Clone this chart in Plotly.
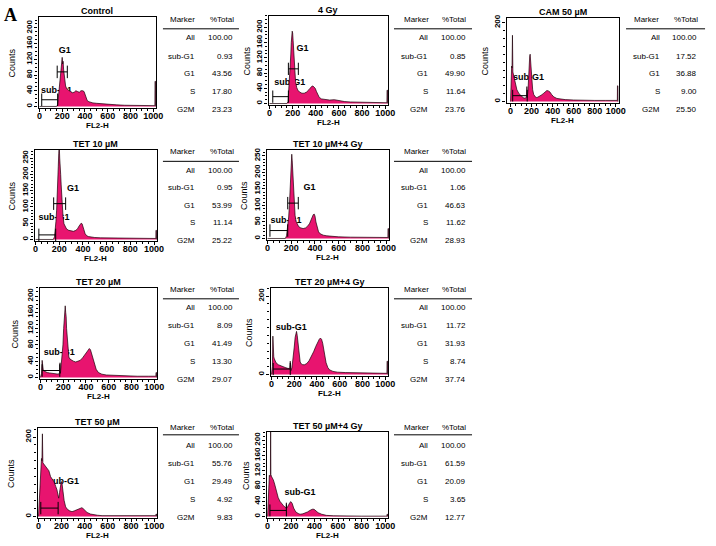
import plotly.graph_objects as go

W, H = 716, 546

# ---------------- data ----------------
PANEL_TITLES = ["Control", "4 Gy", "CAM 50 µM", "TET 10 µM", "TET 10 µM+4 Gy",
                "TET 20 µM", "TET 20 µM+4 Gy", "TET 50 µM", "TET 50 µM+4 Gy"]
MARKER_NAMES = ["All", "sub-G1", "G1", "S", "G2M"]

PCT_CONTROL = [100.00, 0.93, 43.56, 17.80, 23.23]
PCT_4GY = [100.00, 0.85, 49.90, 11.64, 23.76]
PCT_CAM50 = [100.00, 17.52, 36.88, 9.00, 25.50]
PCT_TET10 = [100.00, 0.95, 53.99, 11.14, 25.22]
PCT_TET10_4GY = [100.00, 1.06, 46.63, 11.62, 28.93]
PCT_TET20 = [100.00, 8.09, 41.49, 13.30, 29.07]
PCT_TET20_4GY = [100.00, 11.72, 31.93, 8.74, 37.74]
PCT_TET50 = [100.00, 55.76, 29.49, 4.92, 9.83]
PCT_TET50_4GY = [100.00, 61.59, 20.09, 3.65, 12.77]

# histogram (FL2-H channel, counts)
HIST_CONTROL = [(0,0),(150,0),(160,4),(166,22),(172,45),(178,65),(184,85),(188,105),(192,118),(196,112),
                (200,125),(204,108),(208,115),(212,95),(216,80),(222,62),(230,52),(240,45),(250,42),(262,40),
                (275,38),(290,35),(305,36),(320,40),(335,38),(350,36),(365,40),(380,40),(392,38),(400,32),
                (410,22),(420,15),(435,12),(450,10),(470,9),(500,8),(540,7),(580,5),(620,5),(680,4),
                (750,3),(820,3),(900,2),(980,2),(1015,2),(1016,64),(1020,64),(1021,0)]
HIST_4GY = [(0,0),(150,0),(160,5),(166,30),(172,60),(178,95),(184,130),(188,160),(192,178),(196,190),
            (200,185),(204,165),(208,140),(212,110),(218,80),(225,58),(235,42),(245,35),(260,30),(280,27),
            (300,27),(320,30),(340,36),(355,42),(365,45),(375,46),(385,44),(395,40),(405,32),(415,24),
            (430,16),(450,12),(480,10),(520,9),(560,10),(600,7),(650,5),(700,4),(800,3),(900,3),
            (980,2),(1015,2),(1016,35),(1020,35),(1021,0)]
HIST_CAM50 = [(0,0),(5,80),(10,90),(14,85),(18,168),(22,75),(26,70),(30,60),(40,50),(50,40),(60,30),
              (80,20),(100,14),(120,10),(140,8),(150,12),(155,38),(158,10),(162,20),(166,30),(170,60),
              (176,90),(182,115),(186,120),(190,100),(194,115),(198,80),(204,50),(210,30),(220,18),
              (235,12),(250,10),(270,12),(290,16),(310,20),(330,25),(345,28),(360,27),(375,24),(390,18),
              (410,12),(440,8),(480,6),(520,5),(600,4),(700,3),(800,3),(900,3),(1000,3),(1015,3),
              (1016,40),(1020,40),(1021,0)]
HIST_TET10 = [(0,0),(150,0),(160,8),(166,25),(172,55),(178,90),(184,130),(188,180),(192,225),(196,265),
              (200,290),(204,250),(208,235),(212,200),(216,170),(220,140),(226,100),(232,70),(240,48),
              (250,38),(262,32),(280,28),(300,26),(320,25),(340,28),(355,33),(365,40),(375,47),(385,50),
              (393,48),(400,42),(408,30),(418,18),(430,12),(445,9),(470,7),(500,6),(550,5),(600,5),
              (700,4),(800,3),(900,3),(1000,3),(1015,3),(1016,28),(1020,28),(1021,0)]
HIST_TET10_4GY = [(0,0),(150,0),(160,8),(166,22),(172,40),(178,65),(184,100),(188,140),(192,180),(196,215),
                  (200,240),(204,255),(208,235),(212,200),(216,165),(220,130),(226,95),(232,70),(240,52),
                  (250,42),(262,36),(280,32),(300,30),(320,32),(340,38),(355,46),(365,55),(375,65),(385,72),
                  (393,74),(400,68),(408,50),(418,32),(430,20),(445,14),(470,10),(500,8),(550,6),(600,5),
                  (700,4),(800,3),(900,3),(1000,3),(1015,3),(1016,30),(1020,30),(1021,0)]
HIST_TET20 = [(0,0),(10,10),(15,42),(20,20),(25,18),(30,16),(40,14),(60,12),(80,11),(100,10),(120,9),
              (140,8),(160,8),(168,12),(172,36),(176,10),(180,20),(190,45),(198,80),(204,120),(210,150),
              (214,165),(218,176),(222,160),(226,150),(230,120),(236,90),(242,65),(250,50),(260,45),
              (275,42),(290,40),(310,38),(330,40),(350,42),(370,48),(390,56),(405,63),(420,70),(430,71),
              (440,68),(450,58),(460,45),(475,30),(490,20),(510,12),(540,8),(580,6),(650,5),(750,4),
              (850,3),(950,3),(1015,3),(1016,12),(1020,12),(1021,0)]
HIST_TET20_4GY = [(0,0),(8,20),(12,98),(16,60),(20,45),(25,40),(30,35),(40,30),(60,25),(80,22),(100,20),
                  (120,18),(140,16),(160,15),(165,34),(168,12),(172,10),(180,18),(190,40),(200,70),(208,95),
                  (214,108),(220,110),(226,100),(232,85),(238,60),(244,42),(252,32),(262,27),(275,25),
                  (290,25),(310,28),(330,35),(350,45),(370,58),(390,72),(405,82),(420,90),(430,93),(440,90),
                  (450,80),(460,65),(470,45),(480,30),(495,18),(510,12),(540,8),(580,6),(650,5),(750,4),
                  (850,3),(950,3),(1015,3),(1016,34),(1020,34),(1021,0)]
HIST_TET50 = [(0,0),(12,70),(20,140),(26,146),(30,140),(34,208),(38,135),(45,132),(60,125),(75,120),
              (90,115),(105,100),(120,92),(135,87),(150,75),(160,67),(168,55),(175,46),(182,60),(190,80),
              (197,88),(204,82),(212,62),(222,40),(235,24),(250,18),(270,14),(290,12),(310,14),(330,17),
              (350,20),(365,22),(375,22),(385,20),(400,15),(420,10),(450,6),(480,4),(510,3),(550,2),
              (600,2),(700,2),(800,2),(900,2),(1000,2),(1015,2),(1016,6),(1020,6),(1021,0)]
HIST_TET50_4GY = [(0,0),(8,90),(15,108),(20,105),(24,110),(26,235),(28,110),(35,104),(49,96),(60,85),
                  (77,62),(90,50),(105,40),(120,33),(134,29),(150,24),(158,22),(160,36),(162,22),(170,25),
                  (180,32),(190,37),(199,39),(210,34),(222,22),(240,12),(260,8),(276,6),(300,7),(320,9),
                  (340,12),(360,16),(380,19),(395,19),(410,15),(430,10),(460,6),(500,3),(560,2),(650,1),
                  (800,1),(1000,1),(1015,1),(1016,6),(1020,6),(1021,0)]

# region markers: (start channel, end channel, counts level); None = not visible
SUBG1_MARKER = [(20,160,17),(28,163,18),(20,158,15),(28,170,14),(20,170,24),
                (15,170,17),(15,165,14),(20,170,21),(20,160,16)]
G1_MARKER = [(156,245,88),(163,249,91),None,(153,254,110),(170,259,107),None,None,None,None]

# region label texts: (text, channel, counts)
REGION_LABELS = [
    [("G1",222,141),("sub-G1",150,39)],
    [("G1",285,145),("sub-G1",175,54)],
    [("sub-G1",170,60)],
    [("G1",316,155),("sub-G1",155,66)],
    [("G1",354,154),("sub-G1",156,54)],
    [("sub-G1",165,61)],
    [("sub-G1",173,119)],
    [("sub-G1",217,87)],
    [("sub-G1",276,63)],
]

HISTS = [HIST_CONTROL, HIST_4GY, HIST_CAM50, HIST_TET10, HIST_TET10_4GY,
         HIST_TET20, HIST_TET20_4GY, HIST_TET50, HIST_TET50_4GY]
PCTS = [PCT_CONTROL, PCT_4GY, PCT_CAM50, PCT_TET10, PCT_TET10_4GY,
        PCT_TET20, PCT_TET20_4GY, PCT_TET50, PCT_TET50_4GY]

X_TICKS = [0, 200, 400, 600, 800, 1000]
Y_DTICK = [40, 40, 200, 50, 50, 40, 200, 200, 40]
Y_MAX = [228, 230, 212, 275, 268, 220, 221, 223, 222]

# ---------------- layout (pixels) ----------------
BOXES = [(37,156,13,105),(270,391,12,102),(511,625,14,100),
         (33,157,147,239),(268,392,147,238),
         (38,157,286,378),(272,391,286,375),
         (36,157,427,518),(268,391,431,518)]
COUNTS_X = [10, 248, 489, 10, 245, 13, 250, 9, 247]
XRANGES = [(-8,1025)]*2 + [(-38,1032)] + [(-8,1025)]*6

TABLE_COLS = {  # label_right, value_right, marker_center, total_center, line_x0, line_x1
    'A': (197, 236, 183, 223, 163, 240),
    'B': (433, 472, 420, 458, 397, 476),
    'C': (668, 706, 653, 693, 632, 712),
}
TABLE_ROWS = {  # header_y, line_y, row ys
    1: (16, 25, [34, 52.5, 70.5, 88.5, 106.5]),
    2: (149, 158.5, [167.5, 185, 202.5, 220, 238]),
    3: (288, 297, [306, 324, 342, 360, 378]),
    4: (427, 434, [445, 463, 481, 499, 517]),
}
PANEL_TABLE = [('A',1),('B',1),('C',1),('A',2),('B',2),('A',3),('B',3),('A',4),('B',4)]

PINK = "#E8146F"
FONT = "Liberation Sans, Arial, sans-serif"


def px(x):
    return x / W


def py(y):
    return 1 - y / H


fig = go.Figure()
annotations = []
shapes = []

for i in range(9):
    sfx = "" if i == 0 else str(i + 1)
    xa, ya = "x" + sfx, "y" + sfx
    x0, x1, y0, y1 = BOXES[i]
    ymin = -0.02 * Y_MAX[i]

    # region labels (drawn first so the histogram covers them, as in the original)
    labs = REGION_LABELS[i]
    fig.add_trace(go.Scatter(
        x=[l[1] for l in labs], y=[l[2] for l in labs], text=[l[0] for l in labs],
        mode="text", textposition="middle center",
        textfont=dict(family=FONT, size=9, color="black", weight="bold"),
        xaxis=xa, yaxis=ya, showlegend=False, hoverinfo="skip"))

    hist = HISTS[i]
    fig.add_trace(go.Scatter(
        x=[p[0] for p in hist], y=[p[1] for p in hist], mode="lines",
        line=dict(color="#1a0008", width=0.7), fill="tozeroy", fillcolor=PINK,
        xaxis=xa, yaxis=ya, showlegend=False, hoverinfo="skip"))

    cap = 0.07 * Y_MAX[i]
    for mk in (SUBG1_MARKER[i], G1_MARKER[i]):
        if mk is None:
            continue
        a, b, lv = mk
        fig.add_trace(go.Scatter(
            x=[a, b, None, a, a, None, b, b],
            y=[lv, lv, None, lv - cap, lv + cap, None, lv - cap, lv + cap],
            mode="lines", line=dict(color="black", width=1),
            xaxis=xa, yaxis=ya, showlegend=False, hoverinfo="skip"))

    axis_common = dict(showline=True, mirror=True, linecolor="black", linewidth=1.3,
                       ticks="outside", ticklen=3, tickwidth=1, tickcolor="black",
                       showgrid=False, zeroline=False, fixedrange=True)
    fig.layout["xaxis" + sfx] = dict(
        domain=[px(x0), px(x1)], anchor=ya, range=list(XRANGES[i]),
        tickvals=X_TICKS, ticktext=[str(t) for t in X_TICKS], tickangle=0,
        ticklabelstandoff=-4,
        tickfont=dict(family=FONT, size=9, color="black", weight="bold"),
        minor=dict(dtick=50, ticklen=2, ticks="outside", tickcolor="black", showgrid=False),
        **axis_common)
    dt = Y_DTICK[i]
    fig.layout["yaxis" + sfx] = dict(
        domain=[py(y1), py(y0)], anchor=xa, range=[ymin, Y_MAX[i]],
        tick0=0, dtick=dt, tickangle=-90, ticklabelstandoff=-1,
        tickfont=dict(family=FONT, size=8, color="black", weight="bold"),
        minor=dict(dtick=(20 if dt == 200 else 10), ticklen=2, ticks="outside",
                   tickcolor="black", showgrid=False),
        **axis_common)

    cx = (x0 + x1) / 2
    # panel title
    annotations.append(dict(text=PANEL_TITLES[i], x=px(cx), y=py(y0 - 6), xref="paper", yref="paper",
                            showarrow=False, xanchor="center", yanchor="middle",
                            font=dict(family=FONT, size=9, color="black", weight="bold")))
    # x title
    annotations.append(dict(text="FL2-H", x=px(cx), y=py(y1 + 17), xref="paper", yref="paper",
                            showarrow=False, xanchor="center", yanchor="middle",
                            font=dict(family=FONT, size=8, color="black", weight="bold")))
    # y title
    annotations.append(dict(text="Counts", x=px(COUNTS_X[i]), y=py((y0 + y1) / 2), xref="paper", yref="paper",
                            showarrow=False, xanchor="center", yanchor="middle", textangle=-90,
                            font=dict(family=FONT, size=9, color="black")))

    # table
    col, row = PANEL_TABLE[i]
    lr, vr, mc, tc, lx0, lx1 = TABLE_COLS[col]
    hy, ly, rys = TABLE_ROWS[row]
    tf = dict(family=FONT, size=8, color="black")
    annotations.append(dict(text="Marker", x=px(mc), y=py(hy), xref="paper", yref="paper",
                            showarrow=False, xanchor="center", yanchor="middle", font=tf))
    annotations.append(dict(text="%Total", x=px(tc), y=py(hy), xref="paper", yref="paper",
                            showarrow=False, xanchor="center", yanchor="middle", font=tf))
    shapes.append(dict(type="line", xref="paper", yref="paper", x0=px(lx0), x1=px(lx1),
                       y0=py(ly), y1=py(ly), line=dict(color="black", width=1)))
    for name, val, ry in zip(MARKER_NAMES, PCTS[i], rys):
        annotations.append(dict(text=name, x=px(lr), y=py(ry), xref="paper", yref="paper",
                                showarrow=False, xanchor="right", yanchor="middle", font=tf))
        annotations.append(dict(text=f"{val:.2f}", x=px(vr), y=py(ry), xref="paper", yref="paper",
                                showarrow=False, xanchor="right", yanchor="middle", font=tf))

annotations.append(dict(text="A", x=px(9), y=py(11), xref="paper", yref="paper", showarrow=False,
                        xanchor="center", yanchor="middle",
                        font=dict(family="Liberation Serif, Times New Roman, serif", size=18,
                                  color="black", weight="bold")))

fig.update_layout(width=W, height=H, margin=dict(l=0, r=0, t=0, b=0), autosize=False,
                  paper_bgcolor="white", plot_bgcolor="white",
                  annotations=annotations, shapes=shapes, showlegend=False)

fig.write_html("out.html", config={"displayModeBar": False, "responsive": False},
               post_script="document.body.style.margin='0px';document.body.style.padding='0px';")
